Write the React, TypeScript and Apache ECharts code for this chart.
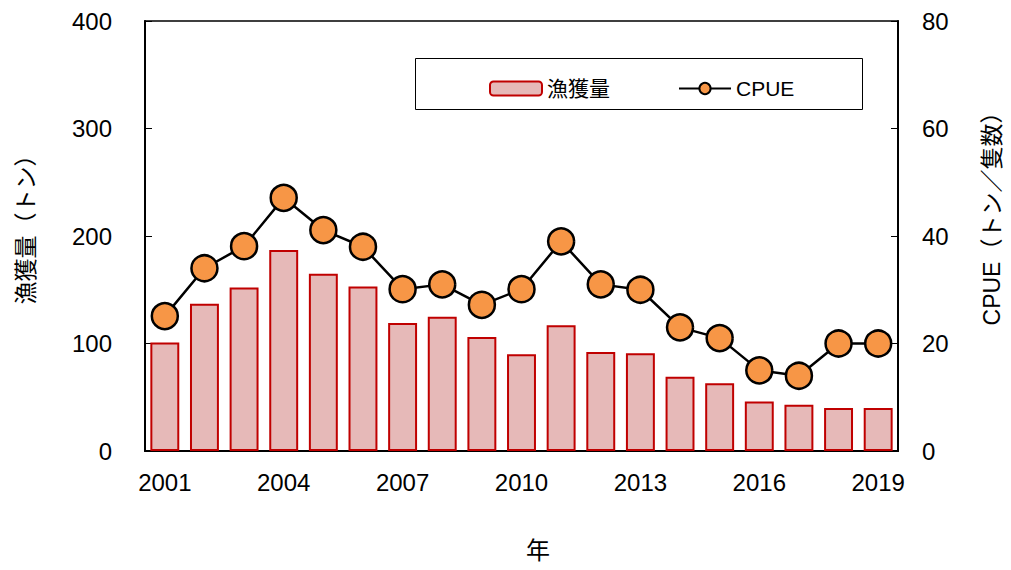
import React, { useEffect, useRef } from "react";
import * as echarts from "echarts";

const years = ["2001","2002","2003","2004","2005","2006","2007","2008","2009","2010","2011","2012","2013","2014","2015","2016","2017","2018","2019"];
const catch_t = [101, 137, 152, 187, 165, 153, 119, 125, 106, 90, 117, 92, 91, 69, 63, 46, 43, 40, 40];
const cpue = [25.1, 34, 38.1, 47.1, 41.1, 38, 30.1, 31, 27.2, 30.1, 39, 31, 30, 23, 21, 15, 14, 20, 20];
const leftTicks = [0, 100, 200, 300, 400];
const rightTicks = [0, 20, 40, 60, 80];
const leftName = "漁獲量（トン）";
const rightName = "CPUE（トン／隻数）";
const xName = "年";

const FONT = "'Liberation Sans', 'Noto Sans CJK JP', sans-serif";

export default function App() {
  const ref = useRef<HTMLDivElement>(null);
  useEffect(() => {
    if (!ref.current) return;
    const chart = echarts.init(ref.current, undefined, { renderer: "svg" });
    chart.setOption({
      animation: false,
      backgroundColor: "#fff",
      textStyle: { fontFamily: FONT },
      grid: { left: 145, right: 113, top: 21, bottom: 119, show: true, borderColor: "#000", borderWidth: 1.5 },
      graphic: [
        { type: "rect", shape: { x: 415.5, y: 58.5, width: 447, height: 51 }, style: { fill: "#fff", stroke: "#000", lineWidth: 1 }, z: 50 },
        { type: "text", x: 26, y: 224, rotation: Math.PI / 2, style: { text: leftName, fontSize: 23, fill: "#000", fontFamily: FONT, align: "center", verticalAlign: "middle" } },
        { type: "text", x: 992, y: 213, rotation: Math.PI / 2, style: { text: rightName, fontSize: 23, fill: "#000", fontFamily: FONT, align: "center", verticalAlign: "middle" } },
        { type: "text", x: 538, y: 550, style: { text: xName, fontSize: 24, fill: "#000", fontFamily: FONT, align: "center", verticalAlign: "middle" } },
      ],
      legend: {
        left: 484, top: 73, itemGap: 68, z: 60,
        textStyle: { fontSize: 21, color: "#000", fontFamily: FONT },
        data: [
          { name: "漁獲量", itemStyle: { color: "#E6B9B8", borderColor: "#C00000", borderWidth: 2 } },
          { name: "CPUE" },
        ],
        itemWidth: 52, itemHeight: 14,
      },
      xAxis: {
        type: "category",
        data: years,
        axisLine: { lineStyle: { color: "#000", width: 2 } },
        axisTick: { show: false },
        axisLabel: { interval: 2, fontSize: 24, color: "#000", margin: 19, fontFamily: FONT },
      },
      yAxis: [
        {
          type: "value", min: leftTicks[0], max: leftTicks[leftTicks.length - 1], interval: 100,
          axisLine: { show: true, lineStyle: { color: "#000", width: 2 } },
          axisTick: { show: true, inside: true, length: 7, lineStyle: { color: "#000", width: 1 } },
          axisLabel: { fontSize: 24, color: "#000", margin: 33, fontFamily: FONT },
          splitLine: { show: false },
        },
        {
          type: "value", min: rightTicks[0], max: rightTicks[rightTicks.length - 1], interval: 20,
          axisLine: { show: true, lineStyle: { color: "#000", width: 2 } },
          axisTick: { show: true, inside: true, length: 7, lineStyle: { color: "#000", width: 1 } },
          axisLabel: { fontSize: 24, color: "#000", margin: 24, fontFamily: FONT },
          splitLine: { show: false },
        },
      ],
      series: [
        {
          name: "漁獲量", type: "bar", data: catch_t, yAxisIndex: 0,
          barCategoryGap: "27%",
          itemStyle: { color: "#E6B9B8", borderColor: "#C00000", borderWidth: 2 },
        },
        {
          name: "CPUE", type: "line", data: cpue, yAxisIndex: 1,
          symbol: "circle", symbolSize: 26,
          lineStyle: { color: "#000", width: 2.5 },
          itemStyle: { color: "#F79646", borderColor: "#000", borderWidth: 2.5 },
          z: 5,
        },
      ],
    });
    return () => chart.dispose();
  }, []);
  return <div ref={ref} style={{ width: 1011, height: 570, position: "absolute", left: 0, top: 0 }} />;
}
